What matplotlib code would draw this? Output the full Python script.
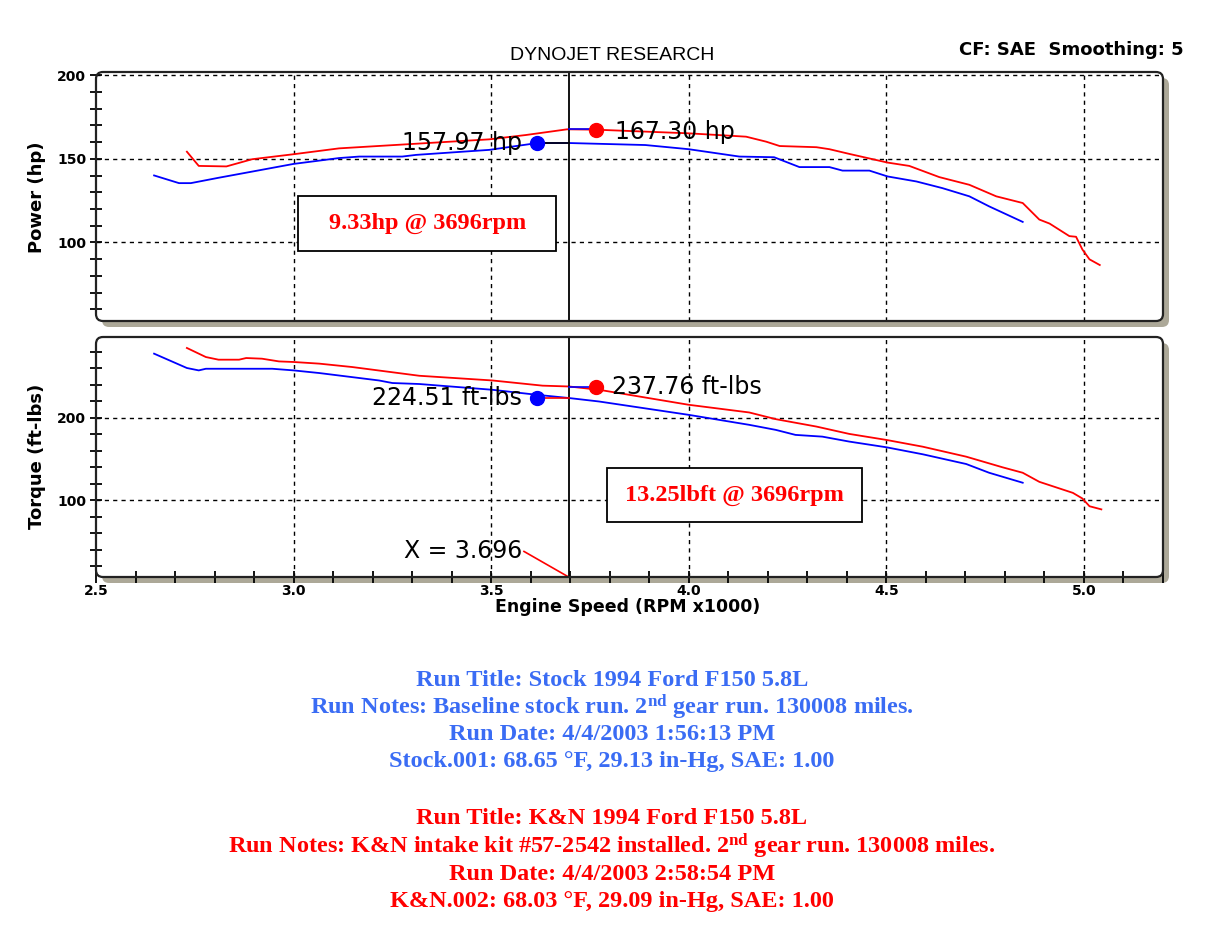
import matplotlib
matplotlib.use("Agg")
import matplotlib.pyplot as plt
from matplotlib.patches import FancyBboxPatch, Rectangle
from matplotlib.transforms import IdentityTransform
from matplotlib.ticker import MultipleLocator

# --- data (rpm x1000) ---
stock_hp_rpm = [2.647, 2.71, 2.74, 2.81, 2.895, 3.0, 3.115, 3.166, 3.275, 3.31, 3.495, 3.617,
                3.697, 3.89, 4.0, 4.128, 4.216, 4.28, 4.356, 4.389, 4.457, 4.503, 4.576,
                4.642, 4.71, 4.76, 4.845]
stock_hp = [140.1, 135.5, 135.5, 138.7, 142.4, 147.0, 150.5, 151.4, 151.4, 152.4, 155.4, 159.5,
            159.5, 158.3, 155.8, 151.4, 151.0, 145.1, 145.1, 143.0, 143.0, 139.5, 136.5,
            132.5, 127.6, 121.6, 112.3]

kn_hp_rpm = [2.73, 2.76, 2.83, 2.895, 3.0, 3.115, 3.22, 3.495, 3.588, 3.692, 3.764, 4.0,
             4.145, 4.196, 4.23, 4.323, 4.356, 4.406, 4.503, 4.558, 4.634, 4.71, 4.778,
             4.845, 4.887, 4.913, 4.963, 4.98, 4.996, 5.014, 5.04]
kn_hp = [154.3, 145.8, 145.5, 149.8, 152.8, 156.3, 157.8, 161.7, 164.3, 167.7, 167.5, 165.3,
         163.3, 160.3, 157.7, 157.0, 155.8, 153.0, 147.8, 145.8, 139.1, 134.5, 127.6,
         123.6, 113.7, 111.3, 103.8, 103.4, 95.8, 89.9, 86.5]

stock_tq_rpm = [2.647, 2.73, 2.76, 2.778, 2.946, 3.0, 3.065, 3.216, 3.25, 3.318, 3.503, 3.614,
                3.697, 3.773, 4.0, 4.153, 4.22, 4.27, 4.338, 4.406, 4.5, 4.592, 4.702,
                4.76, 4.845]
stock_tq = [277.8, 260.4, 257.5, 259.5, 259.5, 257.5, 254.3, 245.3, 242.2, 241.0, 234.0, 228.0,
            224.0, 219.8, 203.6, 191.5, 185.4, 179.3, 177.2, 171.2, 164.3, 155.8, 144.0,
            133.4, 121.3]

kn_tq_rpm = [2.73, 2.778, 2.81, 2.862, 2.88, 2.92, 2.963, 3.0, 3.065, 3.148, 3.233, 3.318,
             3.503, 3.63, 3.697, 3.773, 4.0, 4.153, 4.22, 4.323, 4.406, 4.5, 4.592, 4.702,
             4.794, 4.845, 4.887, 4.972, 4.996, 5.014, 5.044]
kn_tq = [284.7, 273.7, 270.5, 270.5, 272.5, 271.7, 268.4, 267.7, 265.7, 261.6, 256.3, 251.0,
         245.3, 239.0, 238.0, 234.0, 215.8, 206.5, 198.4, 189.4, 180.5, 173.2, 165.0, 152.9,
         140.0, 133.4, 122.4, 109.0, 102.2, 92.8, 89.0]

cursor_rpm = 3.696
stock_peak = (3.617, 159.5, "157.97 hp")
kn_peak = (3.764, 167.3, "167.30 hp")
stock_tq_pt = (3.617, 224.51, "224.51 ft-lbs")
kn_tq_pt = (3.764, 237.76, "237.76 ft-lbs")

stock_notes = [
    "Run Title: Stock 1994 Ford F150 5.8L",
    r"Run Notes: Baseline stock run. 2$^{\mathrm{nd}}$ gear run. 130008 miles.",
    "Run Date: 4/4/2003 1:56:13 PM",
    "Stock.001: 68.65 °F, 29.13 in-Hg, SAE: 1.00",
]
kn_notes = [
    "Run Title: K&N 1994 Ford F150 5.8L",
    r"Run Notes: K&N intake kit #57-2542 installed. 2$^{\mathrm{nd}}$ gear run. 130008 miles.",
    "Run Date: 4/4/2003 2:58:54 PM",
    "K&N.002: 68.03 °F, 29.09 in-Hg, SAE: 1.00",
]

plt.rcParams['mathtext.fontset'] = 'custom'
plt.rcParams['mathtext.rm'] = 'Liberation Serif:bold'
plt.rcParams['mathtext.it'] = 'Liberation Serif:bold'
plt.rcParams['mathtext.bf'] = 'Liberation Serif:bold'

W, H = 1214, 936
fig = plt.figure(figsize=(W / 100, H / 100), dpi=100)
fig.patch.set_facecolor('white')
BLUE, RED = '#0000ff', '#ff0000'
TXT_BLUE = '#3a6cf4'


def panel(x0, y0, x1, y1):
    # pixel box measured from the top-left corner
    ax = fig.add_axes([x0 / W, 1 - y1 / H, (x1 - x0) / W, (y1 - y0) / H])
    ax.set_facecolor('none')
    for s in ax.spines.values():
        s.set_visible(False)
    shadow = FancyBboxPatch((x0 + 6, H - y1 - 6), x1 - x0, y1 - y0,
                            boxstyle="round,pad=0,rounding_size=7",
                            transform=IdentityTransform(), fc='#aca898', ec='none', zorder=-3)
    face = FancyBboxPatch((x0, H - y1), x1 - x0, y1 - y0,
                          boxstyle="round,pad=0,rounding_size=7",
                          transform=IdentityTransform(), fc='white', ec='none', zorder=-2)
    edge = FancyBboxPatch((x0, H - y1), x1 - x0, y1 - y0,
                          boxstyle="round,pad=0,rounding_size=7",
                          transform=IdentityTransform(), fc='none', ec='#222222', lw=1.6, zorder=5)
    for p in (shadow, face, edge):
        fig.add_artist(p)
    ax.grid(True, which='major', color='black', linestyle=(0, (3, 3)), linewidth=1)
    ax.tick_params(axis='y', which='both', direction='inout', length=8, width=1.3,
                   labelsize=10, pad=3)
    ax.set_xlim(2.5, 5.2)
    ax.set_xticks([3.0, 3.5, 4.0, 4.5, 5.0])
    return ax


# power panel
ax1 = panel(96, 72, 1163, 321)
ax1.set_ylim(53, 202)
ax1.set_yticks([100, 150, 200])
ax1.set_yticklabels(['100', '150', '200'], fontweight='bold')
ax1.yaxis.set_minor_locator(MultipleLocator(10))
ax1.tick_params(axis='x', which='both', bottom=False, labelbottom=False)
ax1.plot(stock_hp_rpm, stock_hp, color=BLUE, lw=1.3)
ax1.plot(kn_hp_rpm, kn_hp, color=RED, lw=1.3)
ax1.axvline(cursor_rpm, color='black', lw=1.3)
ax1.plot([stock_peak[0], cursor_rpm], [stock_peak[1]] * 2, color='black', lw=1.2)
ax1.plot([cursor_rpm, kn_peak[0]], [kn_peak[1] + 0.4] * 2, color=BLUE, lw=1.2)
ax1.plot(stock_peak[0], stock_peak[1], 'o', color=BLUE, ms=10)
ax1.plot(kn_peak[0], kn_peak[1], 'o', color=RED, ms=10)
ax1.text(3.578, stock_peak[1], stock_peak[2], ha='right', va='center', fontsize=17)
ax1.text(3.814, kn_peak[1] - 1, kn_peak[2], ha='left', va='center', fontsize=17)
ax1.add_patch(Rectangle((3.0115, 95.0), 0.652, 32.9, fc='white', ec='black', lw=1.3, zorder=4))
ax1.text(3.338, 111.5, "9.33hp @ 3696rpm", ha='center', va='center', color=RED,
         fontsize=17.5, fontweight='bold', family='Liberation Serif', zorder=5)

# torque panel
ax2 = panel(96, 337, 1163, 577)
ax2.set_ylim(7, 298)
ax2.set_yticks([100, 200])
ax2.set_yticklabels(['100', '200'], fontweight='bold')
ax2.yaxis.set_minor_locator(MultipleLocator(20))
ax2.xaxis.set_minor_locator(MultipleLocator(0.1))
ax2.set_xticks([2.5, 3.0, 3.5, 4.0, 4.5, 5.0])
ax2.set_xticklabels(['2.5', '3.0', '3.5', '4.0', '4.5', '5.0'], fontweight='bold')
ax2.tick_params(axis='x', which='both', direction='inout', length=8, width=1.3,
                labelsize=10, pad=1)
ax2.xaxis.get_gridlines()[0].set_visible(False)
ax2.plot(stock_tq_rpm, stock_tq, color=BLUE, lw=1.3)
ax2.plot(kn_tq_rpm, kn_tq, color=RED, lw=1.3)
ax2.axvline(cursor_rpm, color='black', lw=1.3)
ax2.plot([stock_tq_pt[0], cursor_rpm], [stock_tq_pt[1]] * 2, color=RED, lw=1.2)
ax2.plot([cursor_rpm, kn_tq_pt[0]], [kn_tq_pt[1]] * 2, color=BLUE, lw=1.2)
ax2.plot(stock_tq_pt[0], stock_tq_pt[1], 'o', color=BLUE, ms=10)
ax2.plot(kn_tq_pt[0], kn_tq_pt[1], 'o', color=RED, ms=10)
ax2.text(3.578, stock_tq_pt[1] - 1, stock_tq_pt[2], ha='right', va='center', fontsize=17)
ax2.text(3.806, kn_tq_pt[1], kn_tq_pt[2], ha='left', va='center', fontsize=17)
ax2.text(3.578, 38, "X = 3.696", ha='right', va='center', fontsize=17)
ax2.plot([3.583, cursor_rpm], [38, 7], color=RED, lw=1.2)
ax2.add_patch(Rectangle((3.793, 73.3), 0.645, 65.6, fc='white', ec='black', lw=1.3, zorder=4))
ax2.text(4.115, 106, "13.25lbft @ 3696rpm", ha='center', va='center', color=RED,
         fontsize=17.5, fontweight='bold', family='Liberation Serif', zorder=5)

# headings and axis titles
fig.text(612 / W, 1 - 56 / H, "DYNOJET RESEARCH", ha='center', va='center',
         fontsize=14, family='Liberation Sans')
fig.text(1184 / W, 1 - 50 / H, "CF: SAE  Smoothing: 5", ha='right', va='center',
         fontsize=13, fontweight='bold')
fig.text(37 / W, 1 - 197 / H, "Power (hp)", rotation=90, ha='center', va='center',
         fontsize=13, fontweight='bold')
fig.text(37 / W, 1 - 456 / H, "Torque (ft-lbs)", rotation=90, ha='center', va='center',
         fontsize=13, fontweight='bold')
fig.text(628 / W, 1 - 607 / H, "Engine Speed (RPM x1000)", ha='center', va='center',
         fontsize=12.5, fontweight='bold')

# run notes below the chart
for i, line in enumerate(stock_notes):
    fig.text(612 / W, 1 - (680 + 27 * i) / H, line, ha='center', va='center', color=TXT_BLUE,
             fontsize=17.5, fontweight='bold', family='Liberation Serif')
for i, line in enumerate(kn_notes):
    fig.text(612 / W, 1 - (818 + 28 * i) / H, line, ha='center', va='center', color=RED,
             fontsize=17.5, fontweight='bold', family='Liberation Serif')

fig.savefig("out.png", dpi=100)
